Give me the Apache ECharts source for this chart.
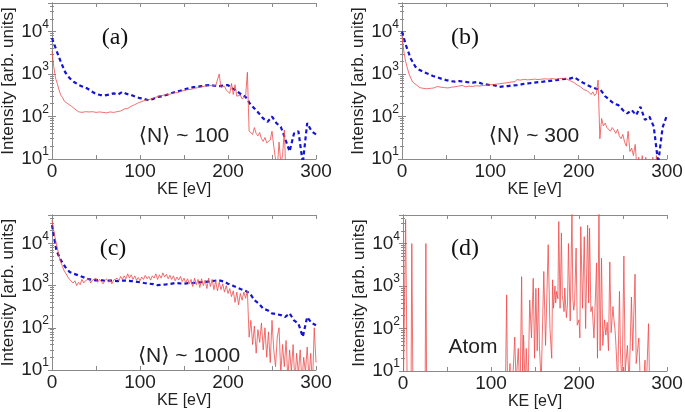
<!DOCTYPE html>
<html>
<head>
<meta charset="utf-8">
<script src="https://cdn.jsdelivr.net/npm/echarts@6/dist/echarts.min.js"></script>
<style>
html,body{margin:0;padding:0;background:#fff;}
#chart{width:685px;height:412px;}
</style>
</head>
<body>
<div id="chart"></div>
<script>
// ---------- data ----------
const keRed = [0,2,4,6,8,10,12,14,16,18,20,22,24,26,28,30,32,34,36,38,
  40,42,44,46,48,50,52,54,56,58,60,62,64,66,68,70,72,74,76,78,
  80,82,84,86,88,90,92,94,96,98,100,102,104,106,108,110,112,114,116,118,
  120,122,124,126,128,130,132,134,136,138,140,142,144,146,148,150,152,154,156,158,
  160,162,164,166,168,170,172,174,176,178,180,182,184,186,188,190,192,194,196,198,
  200,202,204,206,208,210,212,214,216,218,220,222,224,226,228,230,232,234,236,238,
  240,242,244,246,248,250,252,254,256,258,260,262,264,266,268,270,272,274,276,278,
  280,282,284,286,288,290,292,294,296,298,300];
const keBlue = [0,5,10,15,20,25,30,35,40,45,50,55,60,65,70,75,80,85,90,95,
  100,105,110,115,120,125,130,135,140,145,150,155,160,165,170,175,180,185,190,195,
  200,205,210,215,220,225,230,235,240,245,250,255,260,265,270,275,280,285,290,295,300];

const redA = [3500,1500,800,600,420,320,280,230,210,200,
  190,175,185,150,135,130,140,125,135,130,
  120,128,118,130,122,125,118,128,120,125,
  130,122,135,128,132,125,138,130,140,135,
  145,150,160,155,170,175,185,190,200,210,
  215,225,220,240,235,250,255,265,270,285,
  290,300,295,315,320,330,340,335,350,360,
  370,365,385,390,400,410,420,430,440,435,
  455,460,470,480,475,500,490,520,510,530,
  520,540,510,530,500,1000,480,460,520,420,
  380,350,600,330,560,300,280,320,260,280,
  300,1100,45,50,38,55,40,35,42,30,
  26,32,24,22,28,45,20,10,6,25,
  8,12,48,3,1,1,1,1,1,1,
  1,1,1,1,1,1,1,1,1,1,1];
const blueA = [7000,3600,1950,1100,800,650,560,500,460,390,
  340,320,315,330,350,330,380,340,320,290,
  270,260,240,260,290,300,320,350,380,400,
  430,460,490,500,520,540,550,530,520,540,
  550,460,400,330,290,200,155,120,90,75,
  100,70,57,30,15,40,45,8,70,45,38];

const redB = [8000,3500,2000,1400,1000,800,650,600,560,520,
  480,500,460,470,450,490,460,500,470,480,
  510,470,490,520,480,500,470,510,490,530,
  500,480,520,500,540,510,500,550,520,540,
  510,560,530,550,520,560,540,580,550,570,
  560,590,570,600,580,620,600,640,610,650,
  630,680,650,700,660,740,690,720,700,750,
  710,730,700,740,720,760,700,740,720,760,
  730,770,740,760,720,780,740,760,730,780,
  750,790,740,770,720,700,680,640,600,560,
  530,500,470,430,450,400,370,330,380,310,
  350,720,30,90,60,70,55,60,45,55,
  48,40,50,35,30,38,25,20,45,15,
  18,12,22,6,11,5,12,4,11,3,
  10,3,11,2,12,3,1,1,1,1,1];
const blueB = [10000,4400,2300,1500,1240,1100,1000,900,840,770,
  720,680,660,680,660,640,630,650,600,570,
  550,540,500,510,520,540,550,570,600,610,
  630,650,660,680,700,720,750,770,780,840,
  720,620,550,490,450,420,300,245,200,185,
  142,118,142,108,170,83,100,58,8,55,108];

const redC = [35000,20000,12000,8000,5000,3600,2800,2200,1900,1600,
  1400,1300,1150,1300,1000,1200,1050,1400,1150,1300,
  1200,1450,1150,1350,1250,1500,1200,1400,1250,1100,
  1300,1450,1200,1400,1100,1350,1250,1500,1300,1650,
  1400,1700,1450,1900,1500,1800,1400,1700,1350,1550,
  1300,1600,1400,1750,1450,1650,1350,1700,1500,1900,
  1400,1800,1500,2000,1600,1850,1450,1750,1400,1700,
  1300,1600,1350,1650,1250,1500,1150,1450,1100,1400,
  950,1500,1050,1400,900,1450,1000,1350,850,1500,
  950,1400,800,1300,750,1200,800,1100,700,1000,
  650,850,550,750,400,700,350,650,450,700,
  500,750,60,150,40,110,25,90,45,130,
  30,100,20,80,15,150,30,12,60,100,
  8,40,12,50,6,30,9,40,5,25,
  8,30,5,20,9,35,6,25,4,100,15];
const blueC = [27000,6800,4000,2760,2100,1900,1750,1600,1450,1380,
  1330,1350,1300,1320,1300,1280,1320,1300,1280,1250,
  1200,1150,1110,1080,1020,1050,1070,1100,1150,1130,
  1110,1140,1150,1180,1200,1230,1270,1300,1330,1250,
  1110,1000,900,820,750,650,450,375,285,260,
  220,210,200,180,220,150,125,61,180,130,115];

const keAtom = [0,3,5,9,10,11.5,25,26,27,116,117.8,119,121.6,123,127,128.5,131,133,134.8,136,
  137,139,140,142,144,146,148,149.5,151,152.5,154,155,157,160,162,165,167,169,170,171,
  172.7,173.5,174.6,176,177,178.5,180,181,182,183,183.8,185,185.7,187,188,190,192,193,194,195,
  196.7,198,200,201,202,204,206,207.5,209.8,211,212,213.5,215,217,220,221,222.7,224,225.6,227,
  229,230.5,232,233.5,235,236.5,238.6,239.5,240,241,242,244,246,247,247.6,249,251,252.5,255,257,
  259.6,261,263.7,265,268,270,273,275,276,279,280.5,300];
const atom = [1,37000,1,1,10000,1,1,10000,1,1,620,1,15,1,63,5,34,2,1660,5,
  70,3,34,3,470,60,1520,20,880,30,900,40,5,2200,40,9400,100,20,1400,300,
  1000,400,750,500,33000,300,17800,600,430,250,900,300,180,400,10000,150,60000,500,270,400,
  7800,120,160,60,25000,300,14500,100,27000,400,23000,250,330,60,3500,20,60000,30,4500,40,
  160,70,140,30,3700,80,330,180,200,90,40,5,750,40,15,5,5100,10,40,5,
  550,30,1900,15,60,3,4,18,2,130,2,1];

const xTickLabels = ['0','100','200','300'];
const panelTags = ['(a)','(b)','(c)','(d)'];
const panelNotes = ['\u27E8N\u27E9 ~ 100','\u27E8N\u27E9 ~ 300','\u27E8N\u27E9 ~ 1000','Atom'];

// ---------- layout ----------
const grids = [
  {left:52, top:3, width:264, height:156},
  {left:402, top:3, width:265, height:156},
  {left:52, top:215, width:264, height:155},
  {left:403, top:215, width:264, height:156}
];
const SANS = 'Liberation Sans, Arial, Helvetica, sans-serif';
const AX = '#8a8a8a';
const YMIN = 10, YMAX = 47000;

function pairs(xs, ys){ return xs.map((x,i)=>[x, ys[i]]); }

const xAxes = [], yAxes = [];
grids.forEach((g, i) => {
  const common = {
    gridIndex: i, type: 'value', min: 0, max: 300, interval: 50,
    splitLine: {show:false},
    axisLine: {show:true, lineStyle:{color:AX, width:1}},
    axisTick: {show:true, inside:true, length:4, lineStyle:{color:AX}}
  };
  xAxes.push(Object.assign({}, common, {
    position: 'bottom',
    name: 'KE [eV]', nameLocation: 'middle', nameGap: 22,
    nameTextStyle: {fontFamily: SANS, fontSize: 16, color: '#222'},
    axisLabel: {show:true, margin: 3, fontFamily: SANS, fontSize: 19, color:'#222',
      formatter: v => xTickLabels.indexOf(String(v)) >= 0 ? String(v) : ''}
  }));
  xAxes.push(Object.assign({}, common, {position:'top', axisLabel:{show:false}}));
  const ycommon = {
    gridIndex: i, type: 'log', min: YMIN, max: YMAX, logBase: 10,
    splitLine: {show:false},
    axisLine: {show:true, lineStyle:{color:AX, width:1}},
    axisTick: {show:true, inside:true, length:4, lineStyle:{color:AX}},
    minorTick: {show:true, splitNumber:9, length:2, lineStyle:{color:AX}}
  };
  yAxes.push(Object.assign({}, ycommon, {
    position: 'left',
    name: 'Intensity [arb. units]', nameLocation: 'middle', nameGap: 33,
    nameTextStyle: {fontFamily: SANS, fontSize: 17, color: '#222'},
    axisLabel: {show:true, margin: 3, color:'#222',
      formatter: v => {
        const e = Math.log10(v);
        if (Math.abs(e - Math.round(e)) > 1e-6) return '';
        return '{b|10}{s|' + Math.round(e) + '}';
      },
      rich: {
        b: {fontFamily: SANS, fontSize: 19, color:'#222'},
        s: {fontFamily: SANS, fontSize: 12, color:'#222', padding:[0,0,14,0]}
      }
    }
  }));
  yAxes.push(Object.assign({}, ycommon, {position:'right', axisLabel:{show:false}}));
});

const RED = '#f04a4a', BLUE = '#1414d2';
function redSeries(i, data){
  return {type:'line', xAxisIndex:2*i, yAxisIndex:2*i, data, showSymbol:false, symbol:'none',
    lineStyle:{color:RED, width:0.8}, z:3, silent:true, clip:true};
}
function blueSeries(i, data){
  return {type:'line', xAxisIndex:2*i, yAxisIndex:2*i, data, showSymbol:false, symbol:'none',
    lineStyle:{color:BLUE, width:2.2, type:[4,3]}, z:2, silent:true, clip:true};
}

const series = [
  blueSeries(0, pairs(keBlue, blueA)), redSeries(0, pairs(keRed, redA)),
  blueSeries(1, pairs(keBlue, blueB)), redSeries(1, pairs(keRed, redB)),
  blueSeries(2, pairs(keBlue, blueC)), redSeries(2, pairs(keRed, redC)),
  redSeries(3, pairs(keAtom, atom))
];

const tagPos = [[115,38],[465,38],[113,249],[465,249]];
const notePos = [[184,136],[534,136],[189,356],[473,347]];
const graphic = [];
panelTags.forEach((t,i)=>graphic.push({type:'text', x:tagPos[i][0], y:tagPos[i][1], z:10,
  style:{text:t, fontFamily:'Liberation Serif, Times New Roman, serif', fontSize:24, fill:'#111',
    textAlign:'center', textVerticalAlign:'middle'}}));
panelNotes.forEach((t,i)=>graphic.push({type:'text', x:notePos[i][0], y:notePos[i][1], z:10,
  style:{text:t, fontFamily:'Liberation Sans, DejaVu Sans, sans-serif', fontSize:21, fill:'#222',
    textAlign:'center', textVerticalAlign:'middle'}}));

const chart = echarts.init(document.getElementById('chart'), null, {renderer:'canvas'});
chart.setOption({
  animation: false,
  backgroundColor: '#fff',
  grid: grids.map(g => Object.assign({outerBoundsMode:'none', containLabel:false}, g)),
  xAxis: xAxes,
  yAxis: yAxes,
  series,
  graphic
});
</script>
</body>
</html>
